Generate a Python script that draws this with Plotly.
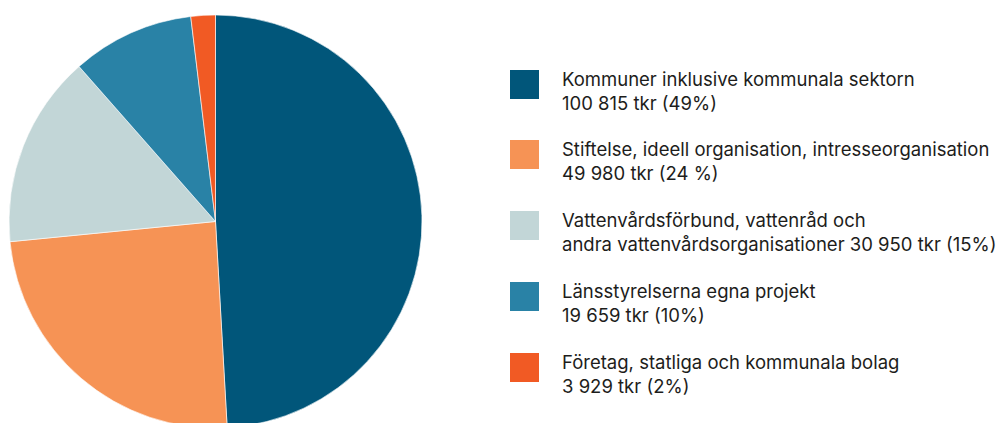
import plotly.graph_objects as go

labels = [
    "Kommuner inklusive kommunala sektorn",
    "Stiftelse, ideell organisation, intresseorganisation",
    "Vattenvårdsförbund, vattenråd och",
    "Länsstyrelserna egna projekt",
    "Företag, statliga och kommunala bolag",
]
second_lines = [
    "100 815 tkr (49%)",
    "49 980 tkr (24 %)",
    "andra vattenvårdsorganisationer 30 950 tkr (15%)",
    "19 659 tkr (10%)",
    "3 929 tkr (2%)",
]
values = [100815, 49980, 30950, 19659, 3929]
colors = ["#01567A", "#F69355", "#C2D6D7", "#2982A6", "#F15A24"]

W, H = 999, 425
OFF = 8  # page body margin

def py(p):
    return (H - (p - OFF)) / H

def px(p):
    return (p - OFF) / W

fig = go.Figure(go.Pie(
    labels=labels,
    values=values,
    sort=False,
    direction="clockwise",
    rotation=0,
    marker=dict(colors=colors, line=dict(color="white", width=0.6)),
    textinfo="none",
    hoverinfo="label+value+percent",
    domain=dict(x=[px(9), px(422)], y=[py(428), py(15)]),
    showlegend=False,
))

row_tops = [70, 140, 211, 282, 353]
shapes = []
annotations = []
for i, (t1, t2) in enumerate(zip(labels, second_lines)):
    top = row_tops[i]
    shapes.append(dict(type="rect", xref="paper", yref="paper",
                       x0=px(510), x1=px(539), y0=py(top + 29), y1=py(top),
                       fillcolor=colors[i], line=dict(width=0)))
    annotations.append(dict(xref="paper", yref="paper", x=px(560), y=py(top - 4),
                            xanchor="left", yanchor="top", align="left",
                            showarrow=False, text=t1 + "<br>" + t2,
                            font=dict(family="Inter", size=18.5, color="#1d1d1b")))

fig.update_layout(
    width=W, height=H,
    margin=dict(l=0, r=0, t=0, b=0),
    paper_bgcolor="white", plot_bgcolor="white",
    shapes=shapes, annotations=annotations,
)
fig.write_html("out.html")
